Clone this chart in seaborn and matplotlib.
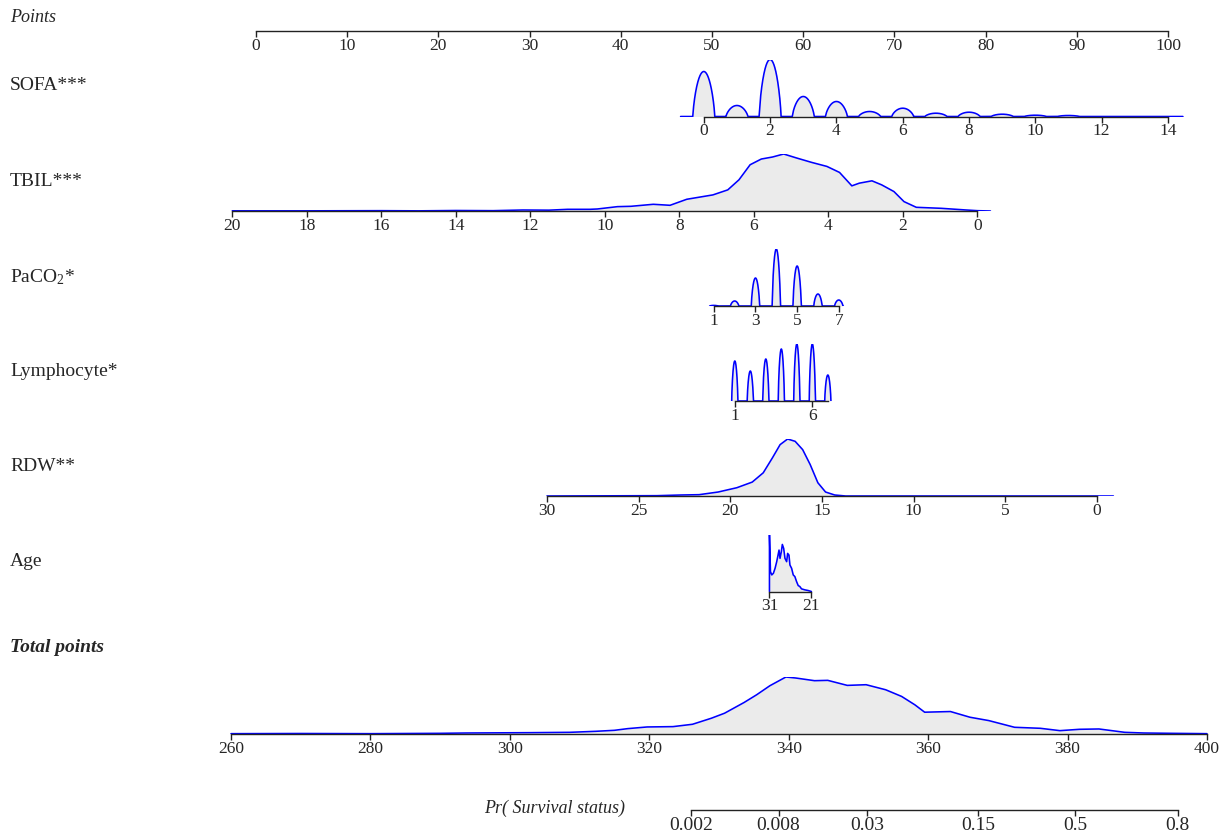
import numpy as np
import matplotlib
matplotlib.use("Agg")
import matplotlib.pyplot as plt
import seaborn as sns
from matplotlib.ticker import FixedLocator, NullLocator

# ---------------- data ----------------
points_ticks = list(range(0, 101, 10))

# discrete predictors: value range, points for the range ends, levels and relative frequency
sofa_range = [0, 14]
sofa_points = [49.1, 100.0]
sofa_ticks = [0, 2, 4, 6, 8, 10, 12, 14]
sofa_levels = list(range(0, 15))
sofa_freq = [45, 11, 57, 20, 15, 5, 8.3, 3.3, 4.3, 2.3, 1.3, 1.0, 0, 0, 0]

paco2_range = [1, 7]
paco2_points = [50.2, 63.9]
paco2_ticks = [1, 3, 5, 7]
paco2_levels = [1, 2, 3, 4, 5, 6, 7]
paco2_freq = [0.6, 5, 28, 57, 40, 12, 6]

lymph_range = [1, 7]
lymph_points = [52.5, 62.7]
lymph_ticks = [1, 6]
lymph_levels = [1, 2, 3, 4, 5, 6, 7]
lymph_freq = [40, 30, 42, 52, 57, 57, 26]

# continuous predictors: density
tbil_range = [20, 0]
tbil_points = [-2.6, 79.1]
tbil_ticks = [20, 18, 16, 14, 12, 10, 8, 6, 4, 2, 0]
tbil_x = [20, 18, 16, 15, 14, 13, 12.2, 11.5, 11, 10.4, 10.2, 9.66, 9.3, 8.7, 8.25,
          7.8, 7.1, 6.7, 6.4, 6.1, 5.8, 5.5, 5.2, 4.85, 4.45, 4.04, 3.7, 3.37, 3.17,
          2.83, 2.57, 2.24, 1.97, 1.64, 0.97, 0.3, 0, -0.35]
tbil_d = [0.5, 0.5, 1, 0.5, 1.5, 1, 3, 2.5, 5, 5, 6, 13, 14, 20, 17,
          35, 48, 63, 93, 138, 155, 161, 170, 158, 145, 133, 115, 75, 83,
          90, 78, 58, 28, 11, 8, 3, 1, 0]

rdw_range = [30, 0]
rdw_points = [31.9, 92.2]
rdw_ticks = [30, 25, 20, 15, 10, 5, 0]
rdw_x = [30, 27, 24, 22.7, 21.7, 20.66, 19.64, 18.8, 18.2, 17.7, 17.28, 16.87, 16.46,
         16.05, 15.64, 15.22, 14.8, 14.3, 13.7, 0, -0.9]
rdw_d = [0, 0.5, 1, 3, 4, 12, 25, 42, 70, 115, 155, 172, 165,
         140, 95, 40, 12, 3, 0, 0, 0]

age_range = [31, 21]
age_points = [56.3, 60.9]
age_ticks = [31, 21]
age_x = [31.0, 31.0, 30.76, 30.45, 30.06, 29.66, 29.27, 29.03, 28.72, 28.48, 28.17,
         27.93, 27.61, 27.3, 26.9, 26.67, 26.35, 26.12, 25.72, 25.33, 24.94, 24.54,
         24.15, 23.76, 23.36, 22.57, 21.79, 21.0]
age_d = [0, 172, 60, 50, 55, 70, 90, 105, 125, 100, 120,
         142, 130, 100, 90, 115, 110, 80, 70, 50, 45, 30,
         18, 15, 8, 5, 3, 0]

total_range = [260, 400]
total_ticks = list(range(260, 401, 20))
total_x = [260, 270, 280, 290, 293.8, 303, 308.6, 312.3, 315, 316.9, 319.7, 323.4,
           326.2, 328.9, 330.8, 333.6, 335.4, 337.3, 339.6, 341, 343.7, 345.6, 348.4,
           351.1, 353.9, 356.2, 358.1, 359.5, 363.2, 366, 368.7, 372.4, 376.1, 378.9,
           381.7, 384.5, 388.2, 390.9, 395, 400]
total_d = [1, 1.5, 1, 2, 3, 4, 5, 8, 11, 16, 21, 22,
           29, 47, 62, 94, 117, 144, 170, 167, 159, 160, 145,
           147, 132, 112, 87, 65, 67, 50, 40, 20, 17, 10,
           14, 15, 5, 3, 2, 1]

# probability ticks sit at unrounded probabilities, labelled with rounded ones
prob_ticks = [0.002, 0.0079, 0.031, 0.155, 0.46, 0.81]
prob_labels = ["0.002", "0.008", "0.03", "0.15", "0.5", "0.8"]

# ---------------- layout (pixels) ----------------
W, H = 1228, 834
POINTS_PX = (256, 1168)     # x of 0 and 100 points
TOTAL_PX = (231, 1207)      # x of 260 and 400 total points
PROB_PX0 = 691              # x of the first probability tick
PROB_PX_PER_LOGIT = 63.5
DENS_H = 57                 # height of the tallest density bump
BLUE = "#0000FF"
FILL = "#EBEBEB"
AXC = "#222222"

sns.set_style("white")
plt.rcParams["font.family"] = ["Liberation Serif", "DejaVu Serif"]
plt.rcParams["mathtext.fontset"] = "custom"
plt.rcParams["mathtext.rm"] = "Liberation Serif"
plt.rcParams["mathtext.it"] = "Liberation Serif:italic"

fig = plt.figure(figsize=(W / 100, H / 100), dpi=100)


def pts_px(p):
    return POINTS_PX[0] + p * (POINTS_PX[1] - POINTS_PX[0]) / 100.0


def style_axis(ax, lo, hi, labelsize=12.5):
    ax.patch.set_alpha(0)
    for s in ["left", "right", "top"]:
        ax.spines[s].set_visible(False)
    ax.spines["bottom"].set_bounds(lo, hi)
    ax.spines["bottom"].set_linewidth(1.0)
    ax.spines["bottom"].set_color(AXC)
    ax.set_yticks([])
    ax.tick_params(axis="x", direction="out", length=4, width=1.0, color=AXC,
                   labelsize=labelsize, pad=1.0, bottom=True)


def row_axes(baseline, v_lo, v_hi, px_lo, px_hi, ticks, height=DENS_H):
    ax = fig.add_axes([0, (H - baseline) / H, 1, height / H])
    k = (px_hi - px_lo) / (v_hi - v_lo)
    ax.set_xlim(v_lo - px_lo / k, v_lo + (W - px_lo) / k)
    ax.set_xticks(ticks)
    ax.set_xticklabels([str(t) for t in ticks])
    style_axis(ax, min(v_lo, v_hi), max(v_lo, v_hi))
    return ax


def draw_density(ax, x, d):
    x = np.asarray(x, float)
    d = np.asarray(d, float)
    ax.set_ylim(0, d.max())
    ax.fill_between(x, 0, d, color=FILL, linewidth=0, zorder=1)
    sns.lineplot(x=x, y=d, ax=ax, color=BLUE, linewidth=1.15, sort=False,
                 estimator=None, zorder=2)
    ax.lines[-1].set_solid_joinstyle("round")
    ax.set_xlabel("")
    ax.set_ylabel("")


def bumps(levels, freq, half_w, lo, hi):
    xs = np.linspace(lo, hi, 4000)
    ys = np.zeros_like(xs)
    for c, f in zip(levels, freq):
        u = (xs - c) / half_w
        ys = np.maximum(ys, np.where(np.abs(u) < 1, f * np.clip(1 - u ** 2, 0, 1) ** 0.75, 0))
    return xs, ys


def variable_row(baseline, rng, pts, ticks):
    return row_axes(baseline, rng[0], rng[1], pts_px(pts[0]), pts_px(pts[1]), ticks)


# Points scale
ax = row_axes(31, 0, 100, POINTS_PX[0], POINTS_PX[1], points_ticks, height=10)

# SOFA
ax = variable_row(116.5, sofa_range, sofa_points, sofa_ticks)
draw_density(ax, *bumps(sofa_levels, sofa_freq, 0.33, -0.7, 14.45))

# TBIL
ax = variable_row(211, tbil_range, tbil_points, tbil_ticks)
draw_density(ax, tbil_x, tbil_d)

# PaCO2
ax = variable_row(306, paco2_range, paco2_points, paco2_ticks)
draw_density(ax, *bumps(paco2_levels, paco2_freq, 0.2, 0.8, 7.22))

# Lymphocyte
ax = variable_row(401, lymph_range, lymph_points, lymph_ticks)
draw_density(ax, *bumps(lymph_levels, lymph_freq, 0.2, 0.8, 7.2))

# RDW
ax = variable_row(496, rdw_range, rdw_points, rdw_ticks)
draw_density(ax, rdw_x, rdw_d)

# Age
ax = variable_row(591.5, age_range, age_points, age_ticks)
draw_density(ax, age_x, age_d)

# Total points
ax = row_axes(734, total_range[0], total_range[1], TOTAL_PX[0], TOTAL_PX[1], total_ticks)
draw_density(ax, total_x, total_d)

# Probability scale (logit)
ax = fig.add_axes([0, (H - 810) / H, 1, 10 / H])
ax.set_xscale("logit")
lg = lambda p: np.log(p / (1 - p))
ilg = lambda z: 1 / (1 + np.exp(-z))
z0 = lg(prob_ticks[0])
ax.set_xlim(ilg(z0 - PROB_PX0 / PROB_PX_PER_LOGIT),
            ilg(z0 + (W - PROB_PX0) / PROB_PX_PER_LOGIT))
ax.xaxis.set_major_locator(FixedLocator(prob_ticks))
ax.xaxis.set_minor_locator(NullLocator())
ax.set_xticklabels(prob_labels)
style_axis(ax, prob_ticks[0], prob_ticks[-1], labelsize=14)

# row labels
def label(x, y, s, **kw):
    fig.text(x / W, 1 - y / H, s, va="center", ha="left", **kw)

label(10, 18, "Points", fontsize=13, style="italic")
label(10, 85, "SOFA***", fontsize=14)
label(10, 182, "TBIL***", fontsize=14)
label(10, 277, r"PaCO$_2$*", fontsize=14)
label(10, 372, "Lymphocyte*", fontsize=14)
label(10, 467, "RDW**", fontsize=14)
label(10, 562, "Age", fontsize=14)
label(10, 648, "Total points", fontsize=14, style="italic", weight="bold")
label(484, 808, "Pr( Survival status)", fontsize=13, style="italic")

fig.savefig("out.png", dpi=100)
